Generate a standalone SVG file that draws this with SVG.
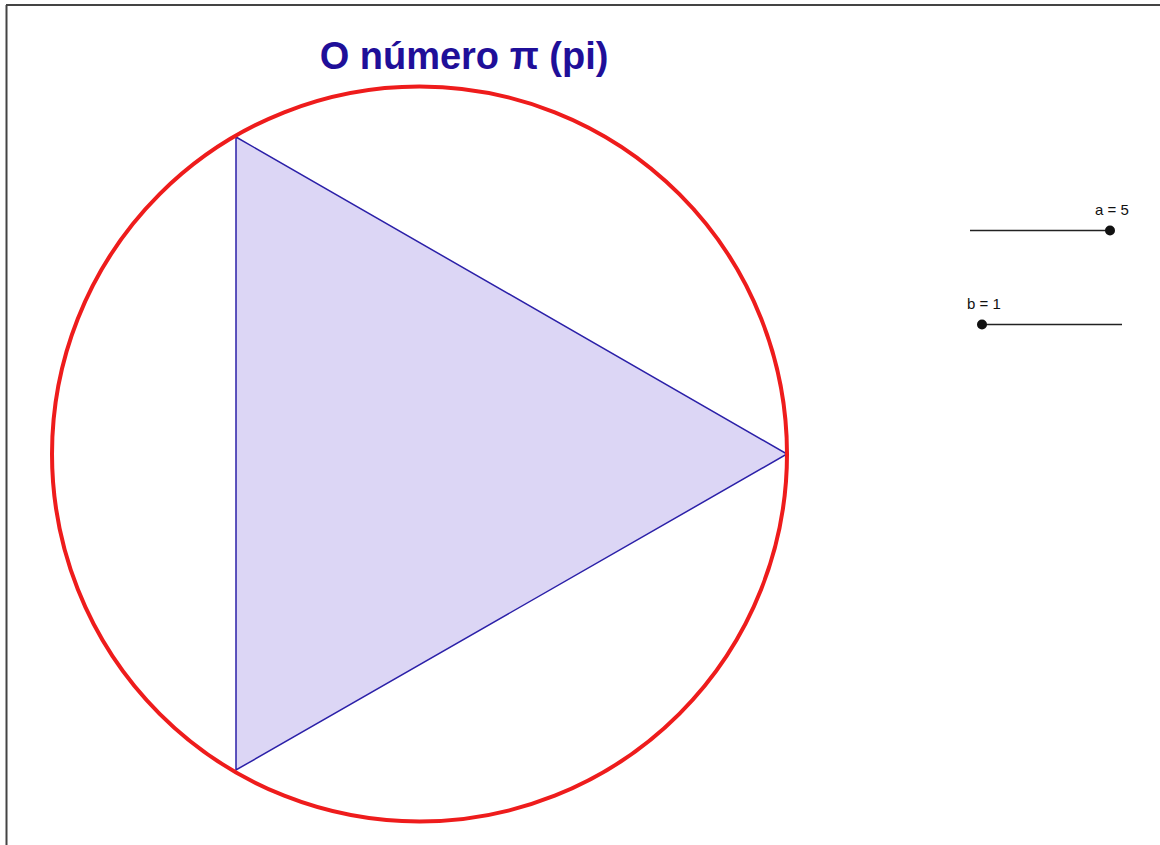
<svg xmlns="http://www.w3.org/2000/svg" width="1160" height="845" viewBox="0 0 1160 845">
<style>
.frame{stroke:#444;stroke-width:2;fill:none}
.lbl{font-family:"Liberation Sans",Arial,sans-serif;font-size:15px;fill:#111}
.track{stroke:#222;stroke-width:1.5}
.knob{fill:#111}
</style>
<rect width="1160" height="845" fill="#fff"/>
<g id="frame">
<line class="frame" x1="6.5" y1="5" x2="6.5" y2="845"/>
<line class="frame" x1="6" y1="5" x2="1160" y2="5"/>
</g>
<g id="title">
<text x="464" y="69" text-anchor="middle" font-family="'Liberation Sans',Arial,sans-serif" font-weight="bold" font-size="38" fill="#1f0f99">O número π (pi)</text>
</g>
<g id="triangle">
<polygon points="236,137 787,454 236,770" fill="#dcd6f5" stroke="#2b20a8" stroke-width="1.5"/>
</g>
<g id="circle">
<circle cx="419.5" cy="454" r="367.5" fill="none" stroke="#ee1c1c" stroke-width="4"/>
</g>
<g id="slider-a">
<line class="track" x1="970" y1="230.5" x2="1110" y2="230.5"/>
<circle class="knob" cx="1110" cy="230.5" r="5"/>
<text class="lbl" x="1095" y="215">a = 5</text>
</g>
<g id="slider-b">
<line class="track" x1="982" y1="324.5" x2="1122" y2="324.5"/>
<circle class="knob" cx="982" cy="324.5" r="5"/>
<text class="lbl" x="967" y="309">b = 1</text>
</g>
</svg>
